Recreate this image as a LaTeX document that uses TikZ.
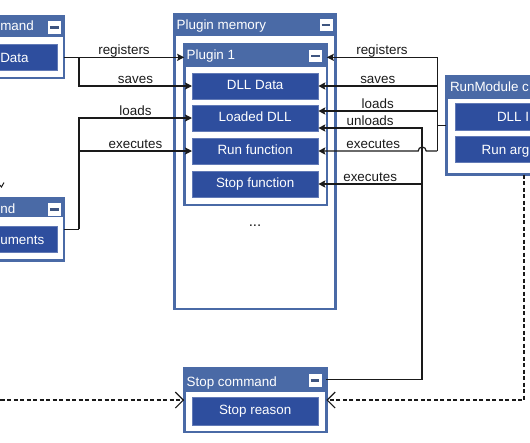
\documentclass[tikz,border=0pt]{standalone}
\usepackage{fontspec}
\setmainfont{Liberation Sans}
\usetikzlibrary{arrows.meta}
\definecolor{hdr}{HTML}{4A6AA6}
\definecolor{blk}{HTML}{2E4E9E}
\definecolor{ink}{HTML}{1A1A1A}
\definecolor{minusc}{HTML}{3E5580}
\begin{document}
\begin{tikzpicture}[x=1pt,y=-1pt,
  every node/.style={outer sep=0pt},
  cont/.style={draw=hdr, fill=white, line width=2.6pt, anchor=north west, inner sep=0pt},
  hdrbar/.style={fill=hdr, anchor=north west, inner sep=0pt},
  blkbox/.style={fill=blk, draw=blk!75!white, line width=0.6pt, anchor=north west, inner sep=0pt,
    text=white, text height=0.7em, text depth=0pt, font=\fontsize{13.4}{16}\selectfont},
  ttl/.style={text=white, inner sep=0pt, font=\fontsize{13.4}{16}\selectfont},
  minbox/.style={fill=white, minimum width=13pt, minimum height=12.5pt, inner sep=0pt,
    path picture={\draw[minusc, line width=2.4pt] ([xshift=-4.4pt]path picture bounding box.center) -- ([xshift=4.4pt]path picture bounding box.center);}},
  conn/.style={draw=ink, line width=1.2pt},
  arr/.style={conn, -{Stealth[length=7pt,width=7pt,inset=1.2pt]}},
  darr/.style={draw=ink, line width=1.2pt, dash pattern=on 4pt off 2.5pt, -{Straight Barb[length=8pt,width=16pt]}},
  lbl/.style={text=ink, inner sep=1pt, above, text height=0.72em, text depth=0.2em, font=\fontsize{13.4}{16}\selectfont}
]
\useasboundingbox (0,0) rectangle (530,442);
\clip (0,0) rectangle (530,442);

% Plugin memory
\node[cont, minimum width=161, minimum height=294.5] (pm) at (174.5,14.5) {};
\node[hdrbar, minimum width=161, minimum height=21.5] (pmh) at (174.5,14.5) {};
\node[ttl, anchor=base west] (pmt) at (176.7,29.5) {Plugin memory};
\node[minbox] (pmm) at (326,25) {};

% Plugin 1
\node[cont, minimum width=142.6, minimum height=160.6] (p1) at (184.2,44.2) {};
\node[hdrbar, minimum width=142.6, minimum height=22.8] (p1h) at (184.2,44.2) {};
\node[ttl, anchor=base west] (p1t) at (186.7,59.5) {Plugin 1};
\node[minbox] (p1m) at (315.5,56) {};
\node[blkbox, minimum width=126.3, minimum height=26] (dll) at (192,73) {DLL Data};
\node[blkbox, minimum width=126.3, minimum height=26] (ldll) at (192,105) {Loaded DLL};
\node[blkbox, minimum width=126.3, minimum height=26] (runf) at (192,138) {Run function};
\node[blkbox, minimum width=126.3, minimum height=26] (stopf) at (192,171) {Stop function};
\node[text=ink, inner sep=0pt, font=\fontsize{15}{16}\selectfont] (dots) at (255,226) {...};

% Stop command
\node[cont, minimum width=142.1, minimum height=63.6] (sc) at (184.2,368.2) {};
\node[hdrbar, minimum width=142.1, minimum height=23.3] (sch) at (184.2,368.2) {};
\node[ttl, anchor=base west] (sct) at (186.7,386) {Stop command};
\node[minbox] (scm) at (315,380.5) {};
\node[blkbox, minimum width=126.3, minimum height=27.7] (scr) at (192,397.3) {Stop reason};

% top-left container (cut off)
\node[cont, minimum width=83.8, minimum height=61.8] (tl) at (-20,16.2) {};
\node[hdrbar, minimum width=83.8, minimum height=20.8] (tlh) at (-20,16.2) {};
\node[ttl, anchor=base west] (tlt) at (0.3,30.7) {mand};
\node[minbox] (tlm) at (54.3,27.3) {};
\node[blkbox, minimum width=77.3, minimum height=26.7] (tld) at (-20,44) {};
\node[ttl, anchor=base west] (tldt) at (0.3,62.6) {Data};

% left-middle container (cut off)
\node[cont, minimum width=83.8, minimum height=62.5] (lm) at (-20,198) {};
\node[hdrbar, minimum width=83.8, minimum height=19] (lmh) at (-20,198) {};
\node[ttl, anchor=base west] (lmt) at (0.3,213.3) {nd};
\node[minbox] (lmm) at (54.3,209.5) {};
\node[blkbox, minimum width=77.3, minimum height=26.7] (lmd) at (-20,226) {};
\node[ttl, anchor=base west] (lmdt) at (0.3,244.1) {uments};

% RunModule container (cut off)
\node[cont, minimum width=120, minimum height=98.3] (rm) at (446.2,76.2) {};
\node[hdrbar, minimum width=120, minimum height=22.8] (rmh) at (446.2,76.2) {};
\node[ttl, anchor=base west] (rmt) at (450,91.7) {RunModule c};
\node[blkbox, minimum width=110, minimum height=26.7] (rmd1) at (455,103.3) {};
\node[ttl, anchor=base west] (rmd1t) at (497,121.5) {DLL I};
\node[blkbox, minimum width=110, minimum height=26] (rmd2) at (455,136.7) {};
\node[ttl, anchor=base west] (rmd2t) at (481.7,154.5) {Run arg};

% small arrow fragment at the left edge
\coordinate (offA) at (1.5,187);
\draw[conn, line width=1pt] (-2,183) -- (offA) -- (4,182.5);

% left connectors
\coordinate (tlj) at (79,57.35);
\draw[arr] (tld.east -| tl.east) -- (tld.east -| p1.west) node[lbl, midway] {registers};
\draw[arr] (tlj) |- (dll.west) node[lbl, pos=0.75] {saves};
\coordinate (lmj) at (79,229.25);
\draw[conn] (lm.east) -- (lmj);
\draw[arr] (lmj) |- (ldll.west) node[lbl, pos=0.75] {loads};
\draw[arr] (lmj |- runf.west) -- (runf.west) node[lbl, midway] {executes};

% right connectors
\coordinate (rj) at ([xshift=-9pt]rm.west);
\coordinate (ux) at (422,0);
\coordinate (ldA) at ([yshift=7pt]ldll.east);
\coordinate (ldB) at ([yshift=-10pt]ldll.east);
\draw[conn] (rm.west) -- (rj);
\draw[conn] (rj |- tld.east) -- (rj |- runf.east);
\draw[arr] (rj |- tld.east) -- (tld.east -| p1.east) node[lbl, midway] {registers};
\draw[arr] (rj |- dll.east) -- (dll.east) node[lbl, midway] {saves};
\draw[arr] (rj |- ldA) -- (ldA) node[lbl, midway] {loads};
\draw[arr] (rj |- runf.east) -- ++(-11,0) arc[start angle=0, end angle=180, radius=4pt] -- (runf.east) node[lbl, pos=0.45] {executes};
\draw[arr] (sch.east) -| (ux |- ldB) -- (ldB) node[lbl, midway] {unloads};
\draw[arr] (ux |- stopf.east) -- (stopf.east) node[lbl, midway] {executes};

% dashed connectors
\coordinate (dl) at (-6,400);
\draw[darr] (dl) -- (dl -| sc.west);
\coordinate (rmd) at (524,174.5);
\draw[darr] (rmd) |- (sc.east);
\end{tikzpicture}
\end{document}
